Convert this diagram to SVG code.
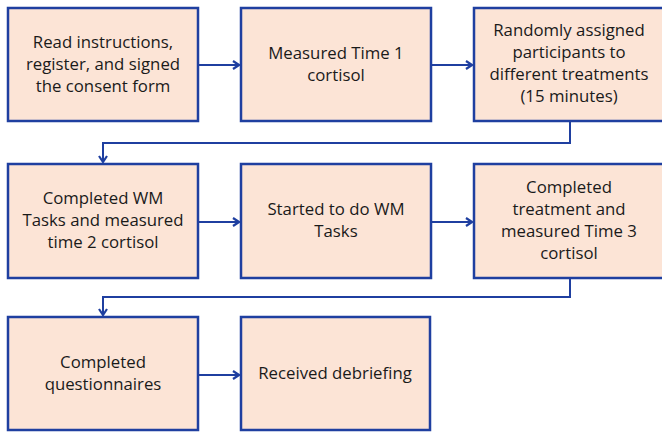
<svg xmlns="http://www.w3.org/2000/svg" width="662" height="433" viewBox="0 0 662 433">
<defs>
<marker id="ah" viewBox="0 0 10 10" refX="9" refY="5" markerWidth="10" markerHeight="10" markerUnits="userSpaceOnUse" orient="auto">
<path d="M3,1 L9,5 L3,9" fill="none" stroke="#1f3fa0" stroke-width="2.2"/>
</marker>
<style>
.box{fill:#fce4d6;stroke:#1f3fa0;stroke-width:2.5}
.t{font-family:"Open Sans","Liberation Sans",sans-serif;font-size:16.8px;fill:#1a1a1a;text-anchor:middle}
.c{fill:none;stroke:#1f3fa0;stroke-width:2}
</style>
</defs>
<rect width="662" height="433" fill="#fff"/>
<g id="n1"><rect class="box" x="8" y="8" width="190" height="113"/>
<text class="t" x="103" y="48">Read instructions,</text>
<text class="t" x="103" y="70">register, and signed</text>
<text class="t" x="103" y="92">the consent form</text></g>
<g id="n2"><rect class="box" x="241" y="8" width="190" height="113"/>
<text class="t" x="336" y="59">Measured Time 1</text>
<text class="t" x="336" y="81">cortisol</text></g>
<g id="n3"><rect class="box" x="474" y="8" width="194" height="113"/>
<text class="t" x="569" y="36">Randomly assigned</text>
<text class="t" x="569" y="58">participants to</text>
<text class="t" x="569" y="80">different treatments</text>
<text class="t" x="569" y="102">(15 minutes)</text></g>
<g id="n4"><rect class="box" x="8" y="164" width="190" height="114"/>
<text class="t" x="103" y="204">Completed WM</text>
<text class="t" x="103" y="226">Tasks and measured</text>
<text class="t" x="103" y="248">time 2 cortisol</text></g>
<g id="n5"><rect class="box" x="241" y="164" width="190" height="114"/>
<text class="t" x="336" y="215">Started to do WM</text>
<text class="t" x="336" y="237">Tasks</text></g>
<g id="n6"><rect class="box" x="474" y="164" width="194" height="114"/>
<text class="t" x="569" y="193">Completed</text>
<text class="t" x="569" y="215">treatment and</text>
<text class="t" x="569" y="237">measured Time 3</text>
<text class="t" x="569" y="259">cortisol</text></g>
<g id="n7"><rect class="box" x="8" y="317" width="190" height="113"/>
<text class="t" x="103" y="368">Completed</text>
<text class="t" x="103" y="390">questionnaires</text></g>
<g id="n8"><rect class="box" x="241" y="317" width="189" height="113"/>
<text class="t" x="335" y="379">Received debriefing</text></g>
<g id="connectors">
<path class="c" d="M199,65 H239" marker-end="url(#ah)"/>
<path class="c" d="M432,65 H472" marker-end="url(#ah)"/>
<path class="c" d="M570,122 V143 H103 V162" marker-end="url(#ah)"/>
<path class="c" d="M199,222 H239" marker-end="url(#ah)"/>
<path class="c" d="M432,222 H472" marker-end="url(#ah)"/>
<path class="c" d="M570,279 V297 H103 V315" marker-end="url(#ah)"/>
<path class="c" d="M199,375 H239" marker-end="url(#ah)"/>
</g>
</svg>
